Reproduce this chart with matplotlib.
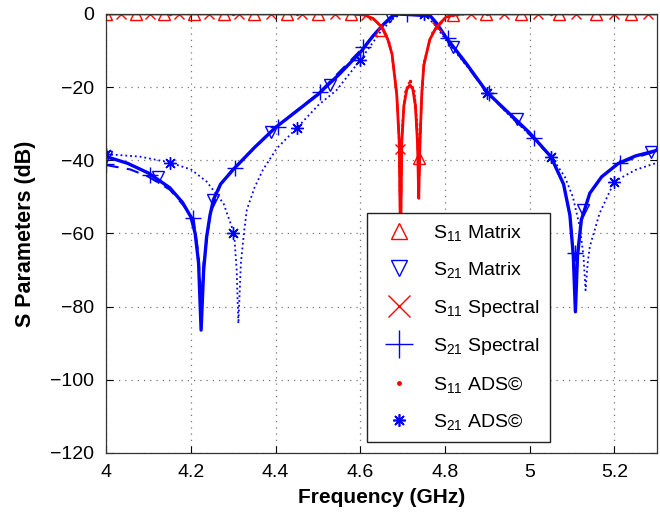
import matplotlib
matplotlib.use("Agg")
import matplotlib.pyplot as plt
from matplotlib.lines import Line2D

plt.rcParams["font.family"] = ["Liberation Sans", "DejaVu Sans"]
plt.rcParams["mathtext.fontset"] = "custom"
plt.rcParams["mathtext.rm"] = "Liberation Sans"
plt.rcParams["mathtext.default"] = "rm"

# S21, matrix method (solid blue)
s21_mat_f = [4.0, 4.05, 4.1, 4.15, 4.18, 4.2, 4.21, 4.218, 4.224, 4.23, 4.237, 4.245,
             4.253, 4.27, 4.3, 4.35, 4.4, 4.45, 4.5, 4.55, 4.6, 4.63, 4.655, 4.675,
             4.69, 4.765, 4.78, 4.8, 4.82, 4.85, 4.9, 4.95, 5.0, 5.05, 5.08, 5.095,
             5.103, 5.108, 5.113, 5.122, 5.142, 5.17, 5.21, 5.25, 5.3]
s21_mat_db = [-39.0, -40.8, -43.5, -47.5, -51.5, -55.5, -60, -68, -86.4, -70, -61, -55,
              -50.8, -46.5, -42.5, -36.5, -31, -26.5, -22, -16.5, -10.5, -6, -2.8, -0.6,
              0, -0.5, -2.5, -6, -9, -13.5, -21.5, -27, -32.5, -39, -46.5, -55,
              -66, -81.4, -66, -56.3, -49, -44.5, -40.8, -38.8, -37.3]
s21_mat_mf = [4.0, 4.123, 4.253, 4.39, 4.528, 4.67, 4.82, 4.97, 5.126, 5.287]
s21_mat_mdb = [-39, -44.5, -50.8, -32.2, -19.4, -0.5, -8.9, -28.8, -53.5, -37.6]

# S21, spectral method (dashed blue)
s21_spe_f = [4.0, 4.057, 4.1, 4.15, 4.18, 4.206, 4.218, 4.224, 4.23, 4.245, 4.27, 4.3,
             4.4, 4.5, 4.6, 4.655, 4.69, 4.765, 4.8, 4.9, 5.0, 5.05, 5.08, 5.095,
             5.103, 5.108, 5.113, 5.122, 5.142, 5.17, 5.21, 5.3]
s21_spe_db = [-41.3, -42.5, -44.5, -48, -52, -55.8, -66, -80, -68, -55, -46.5, -42.3,
              -31, -21.8, -10, -2.8, 0, -0.5, -6.2, -21.6, -33, -39, -46.5, -55,
              -66, -78, -66, -56.3, -49, -44.5, -40.8, -37.4]
s21_spe_mf = [4.0, 4.104, 4.206, 4.304, 4.405, 4.505, 4.607, 4.71, 4.807, 4.905, 5.01, 5.108, 5.214]
s21_spe_mdb = [-41, -44, -55.8, -42.2, -31, -21.3, -8.9, 0, -6.6, -21.7, -34, -65.4, -40.7]

# S21, ADS (dotted blue)
s21_ads_f = [4.0, 4.08, 4.15, 4.2, 4.237, 4.277, 4.302, 4.308, 4.312, 4.318, 4.325, 4.332,
             4.35, 4.37, 4.403, 4.45, 4.5, 4.544, 4.6, 4.65, 4.68, 4.7, 4.752, 4.78,
             4.8, 4.85, 4.902, 4.95, 5.0, 5.051, 5.083, 5.102, 5.118, 5.127, 5.132,
             5.137, 5.142, 5.165, 5.2, 5.25, 5.3]
s21_ads_db = [-38.3, -39, -40.6, -42.5, -45.8, -51.8, -60, -70, -84.6, -68, -60, -53.5,
              -47.5, -42.6, -36.7, -31.2, -25, -20.8, -12.6, -4.5, -1, 0, 0, -3.5,
              -6.8, -14, -21.5, -27.5, -33, -39, -44.5, -50, -58, -66, -75.5,
              -68, -63.6, -54.5, -45.8, -42.6, -40.7]
s21_ads_mf = [4.0, 4.15, 4.3, 4.45, 4.6, 4.75, 4.9, 5.05, 5.2]
s21_ads_mdb = [-38.3, -40.6, -60, -31.2, -12.6, 0, -21.5, -39, -45.8]

# S11, matrix method (solid red)
s11_mat_f = [4.0, 4.58, 4.61, 4.63, 4.65, 4.665, 4.675, 4.686, 4.692, 4.695, 4.698, 4.703,
             4.71, 4.717, 4.724, 4.73, 4.735, 4.738, 4.741, 4.745, 4.75, 4.764, 4.78,
             4.803, 4.83, 4.85, 5.3]
s11_mat_db = [0, 0, -0.3, -1.2, -3.5, -7, -11, -22, -35, -65, -35, -25,
              -20.5, -19.4, -20.5, -25, -35, -50.4, -35, -22, -14, -7, -3.5,
              -0.8, -0.1, 0, 0]
s11_mat_mf = [4.0, 4.07, 4.137, 4.208, 4.279, 4.349, 4.427, 4.5, 4.579, 4.65, 4.739,
              4.82, 4.898, 4.98, 5.07, 5.157, 5.24]
s11_mat_mdb = [0, 0, 0, 0, 0, 0, 0, 0, 0, -4.5, -39.5, -0.2, 0, 0, 0, 0, 0]

# S11, spectral method (dashed red)
s11_spe_f = s11_mat_f
s11_spe_db = s11_mat_db
s11_spe_mf = [4.035, 4.103, 4.172, 4.243, 4.314, 4.388, 4.463, 4.54, 4.614, 4.693,
              4.78, 4.862, 4.94, 5.02, 5.11, 5.2, 5.28]
s11_spe_mdb = [0, 0, 0, 0, 0, 0, 0, 0, -0.4, -37, -3.5, 0, 0, 0, 0, 0, 0]

# S11, ADS (dotted red)
s11_ads_f = [4.0, 4.6, 4.62, 4.65, 4.67, 4.685, 4.69, 4.694, 4.699, 4.706, 4.717, 4.728,
             4.735, 4.739, 4.743, 4.75, 4.77, 4.8, 4.85, 5.3]
s11_ads_db = [0, 0, -0.8, -3, -8, -20, -30, -55, -30, -21, -18.2, -21,
              -30, -45, -30, -13, -5, -1, 0, 0]
s11_ads_mf = [4.0, 4.15, 4.3, 4.45, 4.6, 4.717, 4.9, 5.05, 5.2]
s11_ads_mdb = [0, 0, 0, 0, 0, -18.2, 0, 0, 0]

labels = ["S$_{11}$ Matrix", "S$_{21}$ Matrix", "S$_{11}$ Spectral",
          "S$_{21}$ Spectral", "S$_{11}$ ADS\u00a9", "S$_{21}$ ADS\u00a9"]

red = "#ff0000"
blue = "#0000ff"
asterisk = (8, 2, 0)

fig = plt.figure(figsize=(6.6, 5.18), dpi=100)
ax = fig.add_axes([0.161, 0.1255, 0.834, 0.8475])

# lines
ax.plot(s21_ads_f, s21_ads_db, ":", color=blue, lw=1.3)
ax.plot(s11_ads_f, s11_ads_db, ":", color=red, lw=1.3)
ax.plot(s21_spe_f, s21_spe_db, "--", color=blue, lw=1.5, dashes=(6, 4))
ax.plot(s11_spe_f, s11_spe_db, "--", color=red, lw=1.5, dashes=(6, 4))
ax.plot(s21_mat_f, s21_mat_db, "-", color=blue, lw=2.4)
ax.plot(s11_mat_f, s11_mat_db, "-", color=red, lw=2.0)

# markers
ax.plot(s11_mat_mf, s11_mat_mdb, "^", ls="none", mfc="none", mec=red, ms=9, mew=1.0)
ax.plot(s21_mat_mf, s21_mat_mdb, "v", ls="none", mfc="none", mec=blue, ms=9, mew=1.0)
ax.plot(s11_spe_mf, s11_spe_mdb, "x", ls="none", color=red, ms=7, mew=1.0)
ax.plot(s21_spe_mf, s21_spe_mdb, "+", ls="none", color=blue, ms=11, mew=1.0)
ax.plot(s11_ads_mf, s11_ads_mdb, ".", ls="none", color=red, ms=3)
ax.plot(s21_ads_mf, s21_ads_mdb, marker=asterisk, ls="none", color=blue, ms=9, mew=1.0)

ax.set_xlim(4, 5.3)
ax.set_ylim(-120, 0)
ax.set_xticks([4, 4.2, 4.4, 4.6, 4.8, 5, 5.2])
ax.set_xticklabels(["4", "4.2", "4.4", "4.6", "4.8", "5", "5.2"])
ax.set_yticks([0, -20, -40, -60, -80, -100, -120])
ax.tick_params(direction="in", top=True, right=True, length=5, labelsize=14, width=0.8)
ax.tick_params(axis="y", pad=9)
ax.tick_params(axis="x", pad=8)
ax.grid(True, ls=(0, (1, 4)), color="#777777", lw=0.9)
for s in ax.spines.values():
    s.set_linewidth(0.9)
    s.set_color("#333333")

ax.set_xlabel("Frequency (GHz)", fontsize=15, fontweight="bold", labelpad=5)
ax.set_ylabel("S Parameters (dB)", fontsize=15.5, fontweight="bold", labelpad=10)

handles = [
    Line2D([], [], ls="none", marker="^", mfc="none", mec=red, ms=11, mew=1.0),
    Line2D([], [], ls="none", marker="v", mfc="none", mec=blue, ms=11, mew=1.0),
    Line2D([], [], ls="none", marker="x", color=red, ms=16, mew=1.0),
    Line2D([], [], ls="none", marker="+", color=blue, ms=20, mew=1.0),
    Line2D([], [], ls="none", marker=".", color=red, ms=5),
    Line2D([], [], ls="none", marker=asterisk, color=blue, ms=9, mew=1.2),
]
leg = ax.legend(handles, labels, loc="lower left", bbox_to_anchor=(0.474, 0.025),
                fontsize=14, frameon=True, fancybox=False, framealpha=1,
                edgecolor="#222222", borderpad=0.5, labelspacing=0.9,
                handlelength=2.3, handletextpad=0.6, borderaxespad=0)
leg.get_frame().set_linewidth(1.0)

fig.savefig("out.png", dpi=100)
